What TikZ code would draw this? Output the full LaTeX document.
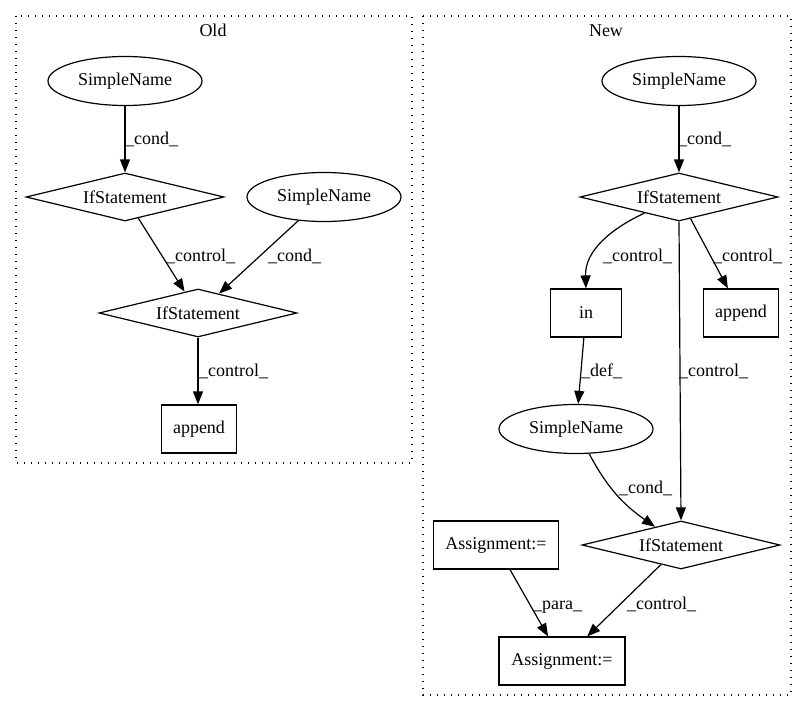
\documentclass[tikz,border=0pt]{standalone}
\usepackage{fontspec}
\setmainfont{Liberation Serif}
\usetikzlibrary{shapes.geometric,arrows.meta}
\begin{document}
\begin{tikzpicture}[x=1pt,y=-1pt,
  every node/.style={font=\fontsize{18}{22}\selectfont},
  ell/.style={draw,ellipse,line width=1.2pt,inner sep=0pt,minimum width=154pt,minimum height=49pt},
  dia/.style={draw,diamond,shape aspect=4.1,line width=1.2pt,inner sep=0pt,minimum width=198pt,minimum height=48pt},
  box/.style={draw,rectangle,line width=1.2pt,inner sep=0pt,minimum height=48pt},
  edge/.style={line width=1.2pt,-{Triangle[length=13pt,width=10pt]}},
  lab/.style={anchor=base west,inner sep=0pt},
  clus/.style={line width=1.1pt,dash pattern=on 1.4pt off 5.6pt}]
\useasboundingbox (0,0) rectangle (807,712);
% clusters
\draw[clus] (16,16) rectangle (412,463);
\draw[clus] (423,16) rectangle (791,695);
\node[anchor=base,inner sep=0pt] (toldl) at (213,36) {Old};
\node[anchor=base,inner sep=0pt] (tnewl) at (606,36) {New};
% Old
\node[ell] (osn1) at (125,81) {SimpleName};
\node[dia] (oif1) at (125,197) {IfStatement};
\node[ell] (osn2) at (324,197) {SimpleName};
\node[dia] (oif2) at (198,313) {IfStatement};
\node[box,minimum width=75pt] (oapp) at (199,429) {append};
\draw[edge] (osn1) -- (oif1);
\draw[edge] (oif1) -- (oif2);
\draw[edge] (osn2) -- (oif2);
\draw[edge] (oif2) -- (oif2 |- oapp.north);
\node[lab] (l1) at (125,144) {\_cond\_};
\node[lab] (l2) at (166,261) {\_control\_};
\node[lab] (l3) at (268,261) {\_cond\_};
\node[lab] (l4) at (199,376) {\_control\_};
% New
\node[ell] (nsn1) at (679,81) {SimpleName};
\node[dia] (nif1) at (679,197) {IfStatement};
\node[box,minimum width=71pt] (nin) at (586,313) {in};
\node[box,minimum width=75pt] (napp) at (741,313) {append};
\node[ell] (nsn2) at (576,429) {SimpleName};
\node[dia] (nif2) at (681,545) {IfStatement};
\node[box,minimum width=125pt] (nas1) at (496,545) {Assignment:=};
\node[box,minimum width=126pt] (nas2) at (562,661) {Assignment:=};
\draw[edge] (nsn1) -- (nif1);
\draw[edge] (nif1) to[out=205,in=92] (nin.north);
\draw[edge] (nif1) -- (napp);
\draw[edge] (nif1.south) -- (nif2.north);
\draw[edge] (nin) -- (nsn2);
\draw[edge] (nsn2) to[out=-62,in=145] (nif2);
\draw[edge] (nas1) -- (nas2);
\draw[edge] (nif2) -- (nas2);
\node[lab] (m1) at (678,144) {\_cond\_};
\node[lab] (m2) at (603,261) {\_control\_};
\node[lab] (m3) at (713,261) {\_control\_};
\node[lab] (m4) at (581,376) {\_def\_};
\node[lab] (m5) at (679,376) {\_control\_};
\node[lab] (m6) at (619,493) {\_cond\_};
\node[lab] (m7) at (533,609) {\_para\_};
\node[lab] (m8) at (627,609) {\_control\_};
\end{tikzpicture}
\end{document}
